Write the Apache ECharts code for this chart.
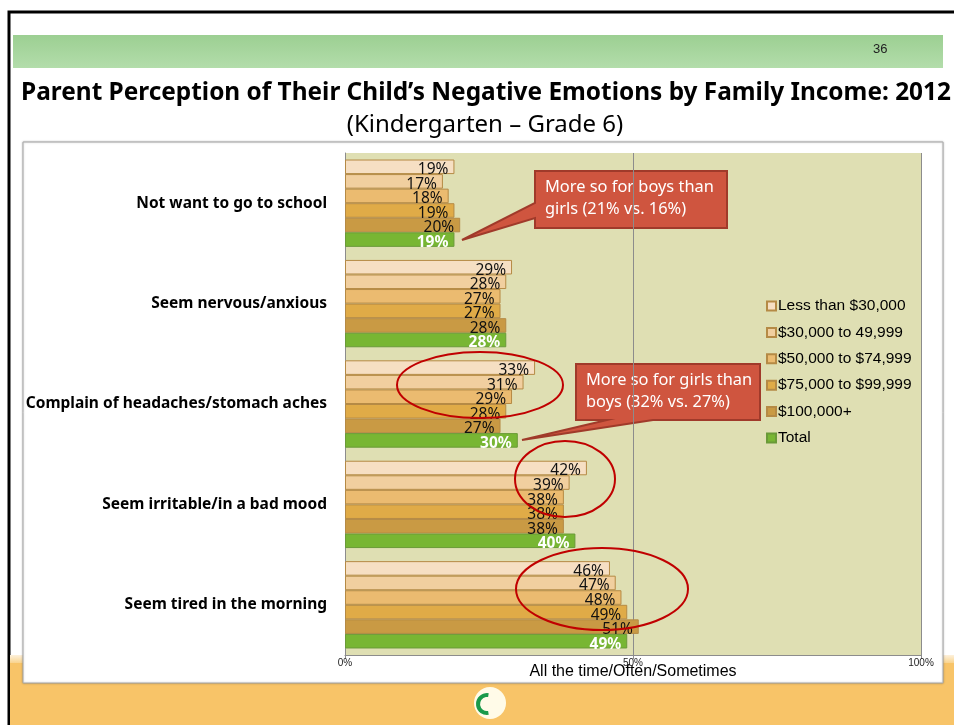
<!DOCTYPE html>
<html>
<head>
<meta charset="utf-8">
<script src="https://cdn.jsdelivr.net/npm/echarts@6/dist/echarts.min.js"></script>
<style>
  html, body { margin: 0; padding: 0; background: #fff; }
  #chart { width: 954px; height: 725px; }
</style>
</head>
<body>
<div id="chart"></div>
<script>
// data
const categories = [
  'Not want to go to school',
  'Seem nervous/anxious',
  'Complain of headaches/stomach aches',
  'Seem irritable/in a bad mood',
  'Seem tired in the morning'
]
const seriesNames = ['Less than $30,000', '$30,000 to 49,999', '$50,000 to $74,999', '$75,000 to $99,999', '$100,000+', 'Total']
const lessThan30k = [19, 29, 33, 42, 46]
const from30kTo50k = [17, 28, 31, 39, 47]
const from50kTo75k = [18, 27, 29, 38, 48]
const from75kTo100k = [19, 27, 28, 38, 49]
const over100k = [20, 28, 27, 38, 51]
const total = [19, 28, 30, 40, 49]
const xTicks = [0, 50, 100]

const seriesData = [lessThan30k, from30kTo50k, from50kTo75k, from75kTo100k, over100k, total]
const colors = ['#f6dfc3', '#f1cf9f', '#ebbb70', '#e0ab47', '#c99a44', '#78b633']

const chart = echarts.init(document.getElementById('chart'))

const labelFont = '"Noto Sans", sans-serif'
const arial = '"Liberation Sans", Arial, sans-serif'

const series = seriesNames.map((name, i) => {
  const isTotal = name === 'Total'
  return {
    name, type: 'bar', data: seriesData[i],
    barGap: '0%', barCategoryGap: '13%',
    itemStyle: { color: colors[i], borderColor: isTotal ? '#6a9a38' : '#b58a45', borderWidth: 1 },
    label: {
      show: true, position: 'insideRight', distance: 6, offset: [0, 3],
      formatter: '{c}%', fontFamily: labelFont, fontSize: 15.5,
      color: isTotal ? '#fff' : '#111', fontWeight: isTotal ? 'bold' : 'normal'
    },
    emphasis: { disabled: true }
  }
})

function callout(points, lines, tx, ty) {
  return {
    type: 'group', z: 100,
    children: [
      { type: 'polygon', shape: { points }, style: { fill: '#cf553f', stroke: '#a03a2a', lineWidth: 2 } },
      { type: 'text', x: tx, y: ty, style: { text: lines.join('\n'), fill: '#fff', font: '16.4px ' + labelFont, lineHeight: 22 } }
    ]
  }
}

function ring(cx, cy, rx, ry) {
  return { type: 'ellipse', z: 100, shape: { cx, cy, rx, ry }, style: { fill: null, stroke: '#c00000', lineWidth: 2 } }
}

chart.setOption({
  animation: false,
  grid: { left: 345, right: 33, top: 153, bottom: 70, show: true, backgroundColor: '#dfdfb3', borderWidth: 0 },
  legend: {
    orient: 'vertical', left: 761, top: 293, itemWidth: 9, itemHeight: 9, itemGap: 10.4,
    icon: 'rect', data: seriesNames,
    textStyle: { fontFamily: arial, fontSize: 15.5, color: '#000', padding: [0, 0, 0, -3] }
  },
  xAxis: {
    type: 'value', min: xTicks[0], max: xTicks[xTicks.length - 1], interval: 50,
    name: 'All the time/Often/Sometimes', nameLocation: 'middle', nameGap: 9, nameMoveOverlap: false,
    nameTextStyle: { fontFamily: arial, fontSize: 16, color: '#000' },
    axisLine: { show: true, lineStyle: { color: '#8c8c8c' } },
    axisTick: { show: true, length: 4, lineStyle: { color: '#8c8c8c' } },
    axisLabel: { formatter: '{value}%', fontFamily: arial, fontSize: 10, color: '#222', margin: 3 },
    splitLine: { show: true, lineStyle: { color: '#8c8c8c' } }
  },
  yAxis: {
    type: 'category', data: categories, inverse: true,
    axisLine: { show: true, lineStyle: { color: '#8c8c8c' } },
    axisTick: { show: false },
    axisLabel: { fontFamily: labelFont, fontWeight: 'bold', fontSize: 15.5, color: '#000', margin: 18 }
  },
  series,
  graphic: [
    // slide frame: black edge on the left and top only
    { type: 'polyline', z: -10, shape: { points: [[9, 725], [9, 12], [954, 12]] }, style: { stroke: '#000', lineWidth: 3, fill: null } },
    { type: 'rect', z: -9, shape: { x: 10, y: 663, width: 944, height: 62 }, style: { fill: '#f8c468' } },
    { type: 'rect', z: -9, shape: { x: 10, y: 655, width: 944, height: 8 }, style: {
      fill: new echarts.graphic.LinearGradient(0, 0, 0, 1, [{ offset: 0, color: '#fdf1dc' }, { offset: 1, color: '#f9d48e' }]) } },
    { type: 'rect', z: -9, shape: { x: 13, y: 35, width: 930, height: 33 }, style: {
      fill: new echarts.graphic.LinearGradient(0, 0, 0, 1, [{ offset: 0, color: '#9ccf92' }, { offset: 1, color: '#b3ddab' }]) } },
    { type: 'text', z: -8, x: 873, y: 43, style: { text: '36', fill: '#222', font: '13px "Liberation Sans Narrow", "Liberation Sans", sans-serif' } },
    { type: 'text', z: -8, x: 486, y: 93, style: { text: 'Parent Perception of Their Child\u2019s Negative Emotions by Family Income: 2012',
      fill: '#000', font: 'bold 24.4px ' + labelFont, textAlign: 'center', textVerticalAlign: 'middle' } },
    { type: 'text', z: -8, x: 485, y: 125, style: { text: '(Kindergarten \u2013 Grade 6)',
      fill: '#000', font: '24px ' + labelFont, textAlign: 'center', textVerticalAlign: 'middle' } },
    { type: 'rect', z: -7, shape: { x: 23, y: 142, width: 920, height: 541 }, style: { fill: '#fff', stroke: '#aaa', lineWidth: 1, shadowBlur: 2, shadowColor: 'rgba(0,0,0,0.25)' } },
    // logo
    { type: 'circle', z: -6, shape: { cx: 490, cy: 703, r: 16 }, style: { fill: '#fffbe8' } },
    { type: 'arc', z: -5, shape: { cx: 487, cy: 704, r: 9, startAngle: Math.PI * 0.45, endAngle: Math.PI * 1.55 }, style: { stroke: '#1a9a4a', lineWidth: 4, fill: null } },
    // annotations
    callout([[535, 171], [727, 171], [727, 228], [535, 228], [535, 218], [462, 240], [535, 203]],
      ['More so for boys than', 'girls (21% vs. 16%)'], 545, 176),
    callout([[576, 364], [760, 364], [760, 420], [653, 420], [522, 440], [607, 420], [576, 420]],
      ['More so for girls than', 'boys (32% vs. 27%)'], 586, 369),
    ring(480, 385, 83, 33),
    ring(565, 479, 50, 38),
    ring(602, 589, 86, 41)
  ]
})
</script>
</body>
</html>
